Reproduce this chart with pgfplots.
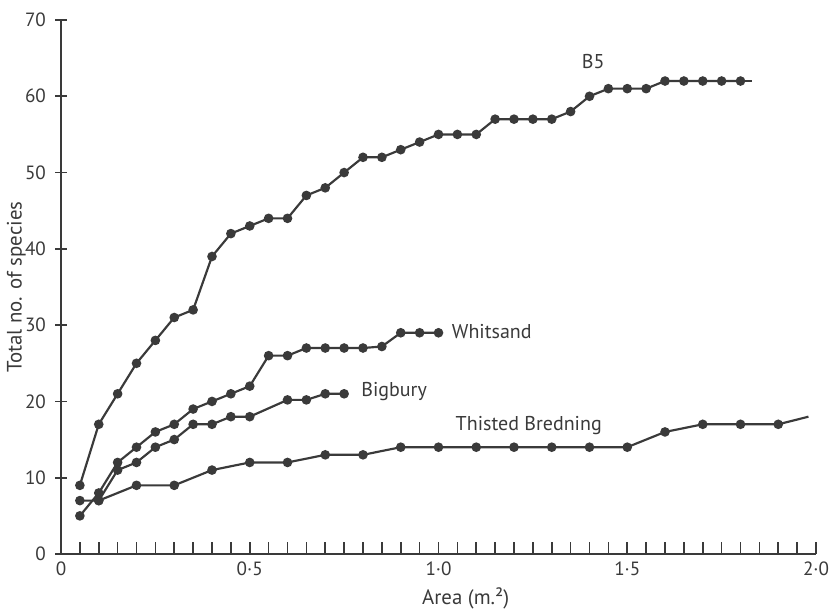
\documentclass[border=0pt]{standalone}
\usepackage{fontspec}
\setmainfont{PT Sans}
\usepackage{pgfplots}
\pgfplotsset{compat=1.18}
\definecolor{ink}{HTML}{3A3A3A}
\begin{document}
\begin{tikzpicture}
\useasboundingbox (-36.6pt,-33pt) rectangle (463.2pt,332.4pt);
\begin{axis}[
  scale only axis, width=453pt, height=320.4pt,
  xmin=0, xmax=2.0, ymin=0, ymax=70,
  axis lines=left, axis line style={ink, line width=1.1pt, -},
  every tick/.style={ink, line width=1pt},
  xtick={0,0.5,1,1.5,2}, xticklabels={0,0·5,1·0,1·5,2·0},
  minor xtick={0.05,0.1,...,1.96},
  xtick align=inside, major tick length=7pt, minor tick length=7pt,
  ytick={0,10,...,70}, yticklabels={0,10,20,30,40,50,60,70},
  y tick label style={font=\fontsize{11.5}{14}\selectfont, text=ink, xshift=-2pt},
  x tick label style={font=\fontsize{11.5}{14}\selectfont, text=ink, yshift=-1pt},
  xlabel={Area (m.²)}, ylabel={Total no. of species},
  xlabel style={font=\fontsize{12.5}{14}\selectfont, text=ink, at={(axis description cs:0.536,-0.084)}, anchor=center},
  ylabel style={font=\fontsize{12.5}{14}\selectfont, text=ink, at={(axis description cs:-0.059,0.5)}, anchor=center},
  ser/.style={ink, line width=1.3pt, mark=*, mark size=2.2pt, mark options={fill=ink, draw=ink, solid}},
  clip=false,
]
% B5
\addplot[ser] coordinates {(0.05,9)(0.1,17)(0.15,21)(0.2,25)(0.25,28)(0.3,31)(0.35,32)(0.4,39)(0.45,42)(0.5,43)(0.55,44)(0.6,44)(0.65,47)(0.7,48)(0.75,50)(0.8,52)(0.85,52)(0.9,53)(0.95,54)(1.0,55)(1.05,55)(1.1,55)(1.15,57)(1.2,57)(1.25,57)(1.3,57)(1.35,58)(1.4,60)(1.45,61)(1.5,61)(1.55,61)(1.6,62)(1.65,62)(1.7,62)(1.75,62)(1.8,62)};
\addplot[ser, mark=none] coordinates {(1.8,62)(1.83,62)};
% Whitsand
\addplot[ser] coordinates {(0.05,5)(0.1,8)(0.15,12)(0.2,14)(0.25,16)(0.3,17)(0.35,19)(0.4,20)(0.45,21)(0.5,22)(0.55,26)(0.6,26)(0.65,27)(0.7,27)(0.75,27)(0.8,27)(0.85,27.2)(0.9,29)(0.95,29)(1.0,29)};
% Bigbury
\addplot[ser] coordinates {(0.05,7)(0.1,7)(0.15,11)(0.2,12)(0.25,14)(0.3,15)(0.35,17)(0.4,17)(0.45,18)(0.5,18)(0.6,20.2)(0.65,20.2)(0.7,21)(0.75,21)};
% Thisted Bredning
\addplot[ser] coordinates {(0.1,7)(0.2,9)(0.3,9)(0.4,11)(0.5,12)(0.6,12)(0.7,13)(0.8,13)(0.9,14)(1.0,14)(1.1,14)(1.2,14)(1.3,14)(1.4,14)(1.5,14)(1.6,16)(1.7,17)(1.8,17)(1.9,17)};
\addplot[ser, mark=none] coordinates {(1.9,17)(1.98,18)};
\node[text=ink, font=\fontsize{12}{14}\selectfont, anchor=center] at (axis cs:1.41,64.6) {B5};
\node[text=ink, font=\fontsize{12}{14}\selectfont, anchor=west] at (axis cs:1.02,29.2) {Whitsand};
\node[text=ink, font=\fontsize{12}{14}\selectfont, anchor=west] at (axis cs:0.78,21.3) {Bigbury};
\node[text=ink, font=\fontsize{12}{14}\selectfont, anchor=west] at (axis cs:1.03,16.8) {Thisted Bredning};
\end{axis}
\end{tikzpicture}
\end{document}
